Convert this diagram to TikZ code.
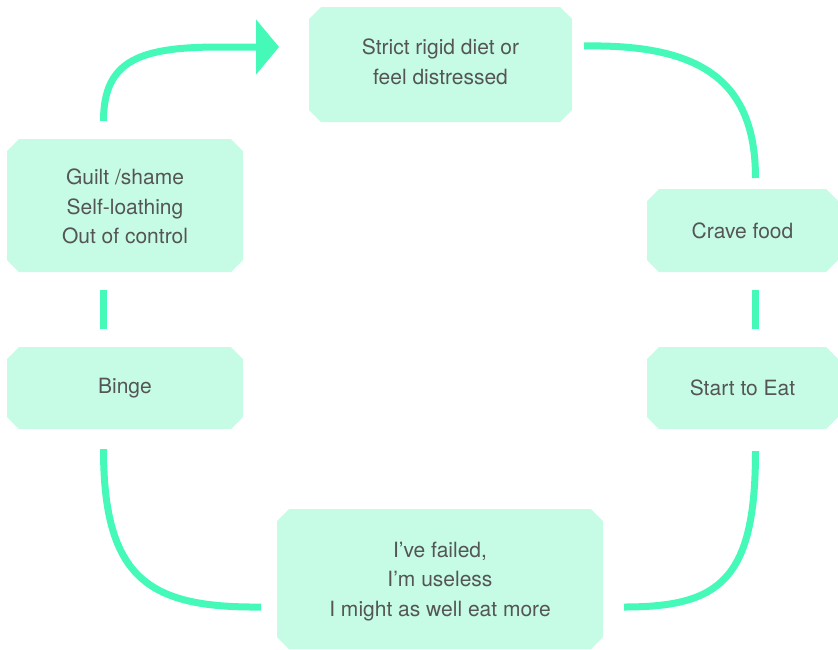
\documentclass[tikz,border=0pt]{standalone}
\usepackage{fontspec}
\setmainfont{TeX Gyre Heros}
\usetikzlibrary{arrows.meta}
\definecolor{boxfill}{HTML}{C6FCE6}
\definecolor{linkcol}{HTML}{45F9B9}
\definecolor{txtcol}{HTML}{555555}
\tikzset{
  stepbox/.style={rectangle, inner sep=0pt, text=txtcol, align=center,
    font=\fontsize{21pt}{29.5pt}\selectfont,
    path picture={\fill[boxfill]
      ([xshift=12pt]path picture bounding box.north west) --
      ([xshift=-12pt]path picture bounding box.north east) --
      ([yshift=-12pt]path picture bounding box.north east) --
      ([yshift=12pt]path picture bounding box.south east) --
      ([xshift=-12pt]path picture bounding box.south east) --
      ([xshift=12pt]path picture bounding box.south west) --
      ([yshift=12pt]path picture bounding box.south west) --
      ([yshift=-12pt]path picture bounding box.north west) -- cycle;}},
  link/.style={draw=linkcol, line width=7pt}
}
\begin{document}
\begin{tikzpicture}[x=1pt,y=-1pt]
\useasboundingbox (0,0) rectangle (838,649);
\node[stepbox, minimum width=263pt, minimum height=115pt] (diet) at (440.5,64.5) {Strict rigid diet or\\feel distressed\rule[-6pt]{0pt}{1pt}};
\node[stepbox, minimum width=191pt, minimum height=83pt] (crave) at (742.5,230.5) {Crave food};
\node[stepbox, minimum width=191pt, minimum height=82pt] (start) at (742.5,388) {Start to Eat};
\node[stepbox, minimum width=236pt, minimum height=133pt] (guilt) at (125,205.5) {\rule{0pt}{18pt}Guilt /shame\\Self-loathing\\Out of control};
\node[stepbox, minimum width=236pt, minimum height=82pt] (binge) at (125,388) {Binge};
\node[stepbox, minimum width=326pt, minimum height=140pt] (failed) at (440,579) {\rule{0pt}{20pt}I’ve failed,\\I’m useless\\I might as well eat more};

\coordinate (a1) at (103.5,121);
\coordinate (a2) at (279,47);
\coordinate (b1) at (584,46);
\coordinate (b2) at (755.5,178);
\coordinate (c1) at (755.5,290);
\coordinate (c2) at (755.5,329);
\coordinate (d1) at (755.5,451);
\coordinate (d2) at (624,607);
\coordinate (e1) at (261,607);
\coordinate (e2) at (103.5,449);
\coordinate (f1) at (103.5,329);
\coordinate (f2) at (103.5,290);

\draw[link, -{Triangle[length=23pt,width=54pt]}] (a1) .. controls (103.5,60) and (140,47) .. (220,47) -- (a2);
\draw[link] (b1) .. controls (700,44) and (755.5,80) .. (b2);
\draw[link] (c1) -- (c2);
\draw[link] (d1) .. controls (755.5,580) and (720,607) .. (d2);
\draw[link] (e1) .. controls (150,608) and (103.5,580) .. (e2);
\draw[link] (f1) -- (f2);
\end{tikzpicture}
\end{document}
